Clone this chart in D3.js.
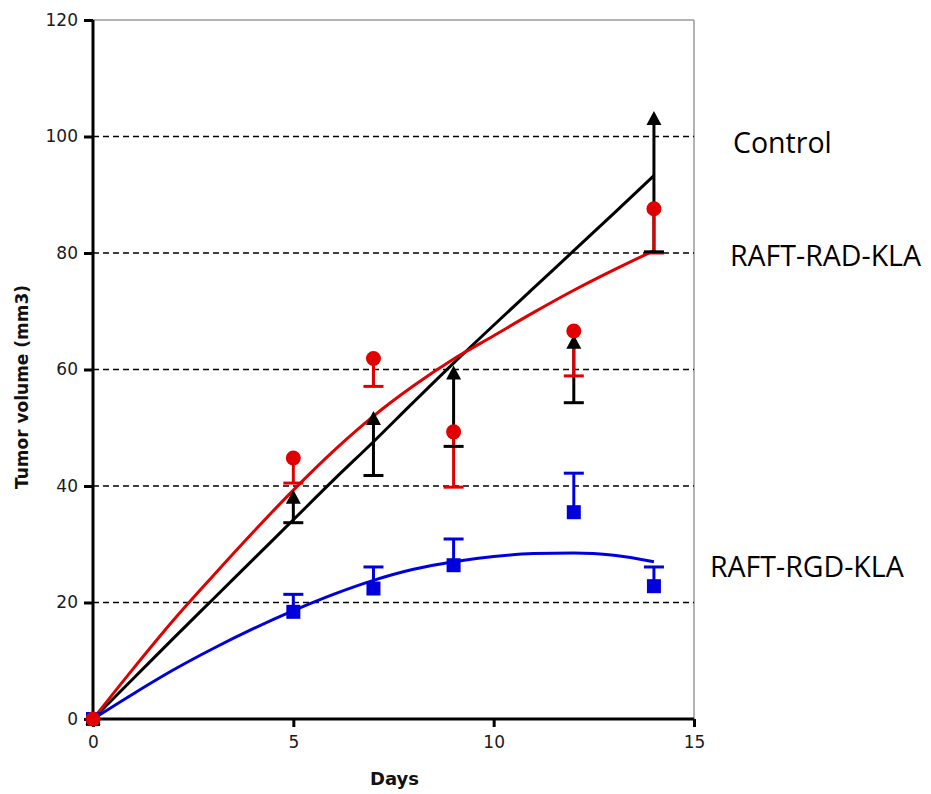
<!DOCTYPE html>
<html>
<head>
<meta charset="utf-8">
<script src="https://cdn.jsdelivr.net/npm/d3@7"></script>
<style>
  html, body { margin: 0; padding: 0; background: #fff; }
  svg { display: block; }
</style>
</head>
<body>
<svg id="chart" width="931" height="794"></svg>
<script>
// ---------- data ----------
const days = [0, 5, 7, 9, 12, 14];

const controlValues = [0, 38, 51.5, 59.3, 64.6, 103];
const controlLower  = [0, 33.7, 41.8, 46.8, 54.3, 80.2];

const radValues = [0, 44.8, 61.9, 49.3, 66.6, 87.6];
const radLower  = [0, 40.5, 57.1, 39.8, 58.9, 80.0];

const rgdValues = [0, 18.4, 22.4, 26.4, 35.5, 22.8];
const rgdUpper  = [0, 21.4, 26.1, 30.9, 42.2, 26.1];

const fitDays    = [0, 1, 2, 3, 4, 5, 6, 7, 8, 9, 10, 11, 12, 13, 14];
const controlFit = [0, 6.9, 13.8, 20.6, 27.4, 34.2, 41.0, 47.6, 54.4, 61.1, 67.6, 74.0, 80.4, 86.8, 93.3];
const radFit     = [0, 8.6, 16.9, 24.6, 32.1, 39.3, 46.0, 52.0, 57.2, 61.8, 65.8, 69.8, 73.6, 77.1, 80.4];
const rgdFit     = [0, 4.3, 8.4, 12.1, 15.5, 18.6, 21.4, 23.8, 25.7, 27.0, 27.9, 28.4, 28.5, 28.1, 27.0];

const xTicks = [0, 5, 10, 15];
const yTicks = [0, 20, 40, 60, 80, 100, 120];
const gridValues = [20, 40, 60, 80, 100];

const seriesNames = ["Control", "RAFT-RAD-KLA", "RAFT-RGD-KLA"];
const seriesLabelValues = [97.2, 77.8, 24.4];   // baseline of the name labels (in mm3)

// ---------- layout ----------
const svg = d3.select("#chart");
const x = d3.scaleLinear().domain([0, 15]).range([93, 694]);
const y = d3.scaleLinear().domain([0, 120]).range([719, 20]);

const tickFont = "'DejaVu Sans', Verdana, sans-serif";

// frame (gray top & right)
svg.append("line").attr("x1", x(0)).attr("x2", x(15)).attr("y1", y(120)).attr("y2", y(120))
  .attr("stroke", "#9a9a9a").attr("stroke-width", 1.5);
svg.append("line").attr("x1", x(15)).attr("x2", x(15)).attr("y1", y(120)).attr("y2", y(0))
  .attr("stroke", "#9a9a9a").attr("stroke-width", 1.5);

// gridlines
svg.append("g").selectAll("line").data(gridValues).join("line")
  .attr("x1", x(0)).attr("x2", x(15))
  .attr("y1", d => y(d)).attr("y2", d => y(d))
  .attr("stroke", "#000").attr("stroke-width", 1.4)
  .attr("stroke-dasharray", "6,4");

// axes
const yAxis = svg.append("g").attr("transform", `translate(${x(0)},0)`)
  .call(d3.axisLeft(y).tickValues(yTicks).tickSize(9).tickPadding(6).tickFormat(d3.format("d")));
const xAxis = svg.append("g").attr("transform", `translate(0,${y(0)})`)
  .call(d3.axisBottom(x).tickValues(xTicks).tickSize(8).tickPadding(9).tickFormat(d3.format("d")));
[yAxis, xAxis].forEach(g => {
  g.select(".domain").attr("stroke", "#000").attr("stroke-width", 3);
  g.selectAll(".tick line").attr("stroke", "#000").attr("stroke-width", 3);
  g.selectAll(".tick text").attr("font-family", tickFont).attr("font-size", 17).attr("fill", "#1a1a1a");
});
yAxis.select(".domain").attr("d", `M0,${y(120)}V${y(0)}`);
xAxis.select(".domain").attr("d", `M${x(0)},0H${x(15)}`);

// axis titles
svg.append("text").attr("transform", `translate(28,${y(57)}) rotate(-90)`)
  .attr("text-anchor", "middle").attr("font-family", tickFont).attr("font-weight", "bold")
  .attr("font-size", 17).attr("fill", "#111").text("Tumor volume (mm3)");
svg.append("text").attr("x", (x(0) + x(15)) / 2 + 1).attr("y", 785)
  .attr("text-anchor", "middle").attr("font-family", tickFont).attr("font-weight", "bold")
  .attr("font-size", 18).attr("fill", "#111").text("Days");

// fit lines
const line = d3.line().x(d => x(d[0])).y(d => y(d[1])).curve(d3.curveMonotoneX);
const fits = [
  { vals: rgdFit, color: "#0000dd" },
  { vals: controlFit, color: "#000" },
  { vals: radFit, color: "#e00000" }
];
fits.forEach(f => {
  svg.append("path").datum(fitDays.map((d, i) => [d, f.vals[i]]))
    .attr("d", line).attr("fill", "none").attr("stroke", f.color).attr("stroke-width", 3);
});

// error bars
const capW = 10;
const errSeries = [
  { vals: rgdValues, ends: rgdUpper, color: "#0000dd" },
  { vals: controlValues, ends: controlLower, color: "#000" },
  { vals: radValues, ends: radLower, color: "#e00000" }
];
errSeries.forEach(s => {
  svg.append("g").selectAll("line").data(days.slice(1)).join("line")
    .attr("x1", d => x(d)).attr("x2", d => x(d))
    .attr("y1", (d, i) => y(s.vals[i + 1])).attr("y2", (d, i) => y(s.ends[i + 1]))
    .attr("stroke", s.color).attr("stroke-width", 3);
});
[errSeries[0], errSeries[2], errSeries[1]].forEach(s => {
  svg.append("g").selectAll("line").data(days.slice(1)).join("line")
    .attr("x1", d => x(d) - capW).attr("x2", d => x(d) + capW)
    .attr("y1", (d, i) => y(s.ends[i + 1])).attr("y2", (d, i) => y(s.ends[i + 1]))
    .attr("stroke", s.color).attr("stroke-width", 3);
});

// markers
svg.append("g").selectAll("rect").data(days).join("rect")
  .attr("x", d => x(d) - 7).attr("y", (d, i) => y(rgdValues[i]) - 7)
  .attr("width", 14).attr("height", 14).attr("fill", "#0000dd");
svg.append("g").selectAll("path").data(days).join("path")
  .attr("transform", (d, i) => `translate(${x(d)},${y(controlValues[i])})`)
  .attr("d", "M0,-8L7.5,6L-7.5,6Z").attr("fill", "#000");
svg.append("g").selectAll("circle").data(days).join("circle")
  .attr("cx", d => x(d)).attr("cy", (d, i) => y(radValues[i]))
  .attr("r", 7.5).attr("fill", "#e00000");

// series labels
const labelX = [733, 730, 710];
svg.append("g").selectAll("text").data(seriesNames).join("text")
  .attr("x", (d, i) => labelX[i])
  .attr("y", (d, i) => y(seriesLabelValues[i]))
  .attr("font-family", "'Open Sans', 'Noto Sans', sans-serif")
  .attr("font-size", 28.5).attr("fill", "#000")
  .text(d => d);
</script>
</body>
</html>
